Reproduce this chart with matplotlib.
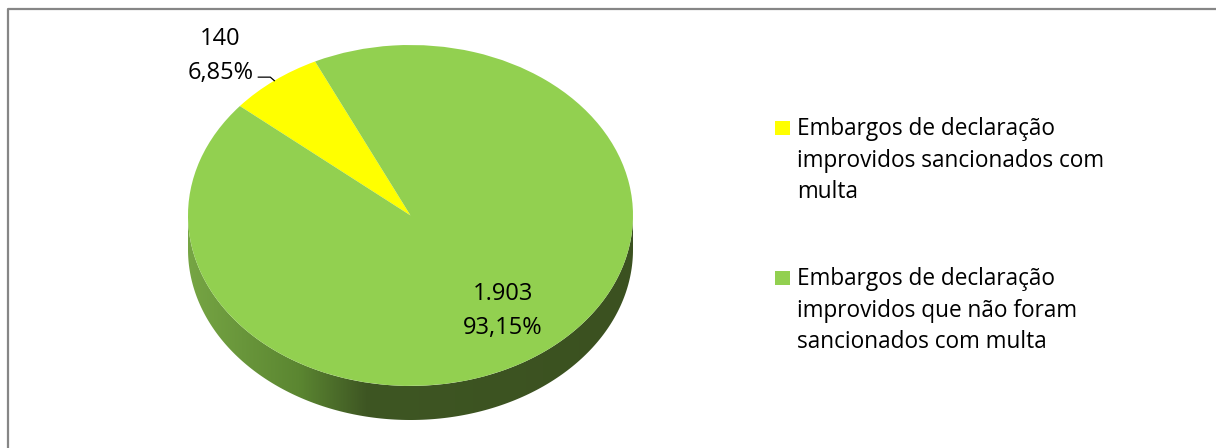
import numpy as np
import matplotlib
matplotlib.use('Agg')
import matplotlib.pyplot as plt
from matplotlib.colors import LinearSegmentedColormap
from matplotlib.patches import Polygon

plt.rcParams['font.family'] = ['Open Sans', 'DejaVu Sans']

# data
labels = ['Embargos de declaração\nimprovidos sancionados com\nmulta',
          'Embargos de declaração\nimprovidos que não foram\nsancionados com multa']
values = [140, 1903]
colors = ['#ffff00', '#92d050']

total = sum(values)
pcts = [v / total * 100 for v in values]
count_txt = [f'{v:,}'.replace(',', '.') for v in values]
pct_txt = [f'{p:.2f}%'.replace('.', ',') for p in pcts]

W, H = 1216, 448
fig = plt.figure(figsize=(W / 100, H / 100), dpi=100)

# background axes in pixel coords (frame + legend)
bg = fig.add_axes([0, 0, 1, 1])
bg.set_xlim(0, W)
bg.set_ylim(H, 0)
bg.axis('off')
bg.plot([7.5, 7.5, W], [H, 9.5, 9.5], color='#868686', lw=1.6, solid_capstyle='butt')

# pie axes (top face ellipse + depth)
depth = 0.2
ax = fig.add_axes([188 / W, (H - 420) / H, 445 / W, 375 / H])
px = 170.45  # pixels per unit vertically

# 3d side
th = np.linspace(180, 360, 200)
t = np.radians(th)
top = np.column_stack([np.cos(t), np.sin(t)])
bot = np.column_stack([np.cos(t[::-1]), np.sin(t[::-1]) - depth])
side = Polygon(np.vstack([top, bot]), closed=True, facecolor='none', edgecolor='none')
ax.add_patch(side)
cmap = LinearSegmentedColormap.from_list('side', [(0, '#76a544'), (0.25, '#5b8631'),
                                                  (0.4, '#3e5623'), (1, '#3b5120')])
grad = np.linspace(0, 1, 256).reshape(1, -1)
im = ax.imshow(grad, cmap=cmap, extent=(-1, 1, -1 - depth, 0.05), aspect='auto', zorder=0)
im.set_clip_path(side)

wedges, _ = ax.pie(values, colors=colors, startangle=115.4, counterclock=True,
                   wedgeprops=dict(linewidth=0, zorder=2))
ax.set_aspect('auto')
ax.set_xlim(-1, 1)
ax.set_ylim(-1 - depth, 1)
ax.axis('off')

# data labels
lab_fs = 17
line = 34 / px
angles = []
start = 115.4
for p in pcts:
    angles.append(start + p * 3.6 / 2)
    start += p * 3.6

# small slice: outside with leader
a = np.radians(angles[0])
ex, ey = np.cos(a), np.sin(a)
ax.plot([ex - 16 / 222, ex - 4 / 222, ex], [ey + 3.5 / px, ey + 3.5 / px, ey],
        color='black', lw=0.9, clip_on=False, zorder=3)
lx = ex - 54 / 222
ax.text(lx, ey + 1.5 / px, pct_txt[0], ha='center', va='baseline', fontsize=lab_fs, clip_on=False)
ax.text(lx, ey + 1.5 / px + line, count_txt[0], ha='center', va='baseline', fontsize=lab_fs,
        clip_on=False)

# big slice: inside
a = np.radians(angles[1])
cx, cy = 0.68 * np.cos(a), 0.68 * np.sin(a)
ax.text(cx, cy + 7 / px, count_txt[1], ha='center', va='baseline', fontsize=lab_fs, zorder=4)
ax.text(cx, cy + 7 / px - line, pct_txt[1], ha='center', va='baseline', fontsize=lab_fs, zorder=4)

# legend
leg_fs = 16.3
leg_y = [135, 285]
for lab, col, y0 in zip(labels, colors, leg_y):
    bg.add_patch(plt.Rectangle((775, y0 - 14), 15, 14, facecolor=col, edgecolor='none'))
    for i, ln in enumerate(lab.split('\n')):
        bg.text(797, y0 + i * 31.7, ln, ha='left', va='baseline', fontsize=leg_fs)

fig.savefig('out.png', dpi=100)
